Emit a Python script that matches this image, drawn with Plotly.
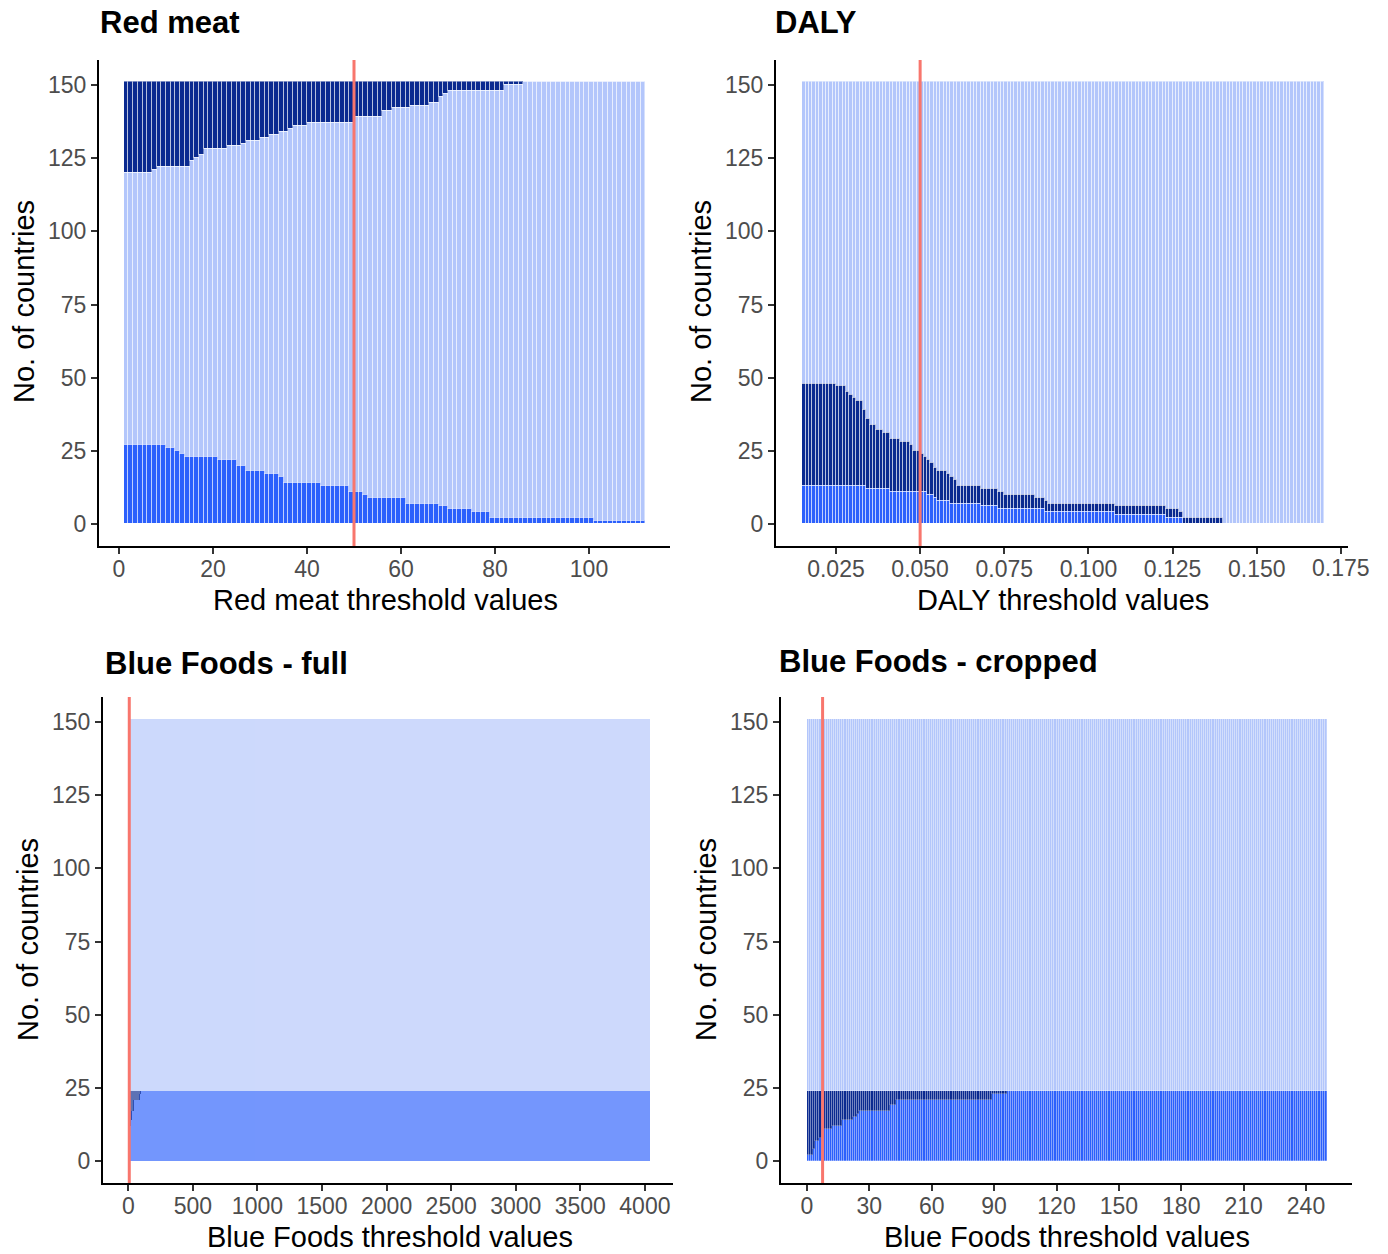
import plotly.graph_objects as go

W, H = 1388, 1254
N_COUNTRIES = 151

# ---------------- data ----------------
# Red meat: thresholds 1..111
rm_thresholds = list(range(1, 112))
rm_bright = [
    27, 27, 27, 27, 27, 27, 27, 27, 27, 26,
    26, 25, 24, 23, 23, 23, 23, 23, 23, 23,
    22, 22, 22, 22, 20, 20, 18, 18, 18, 18,
    17, 17, 17, 16, 14, 14, 14, 14, 14, 14,
    14, 14, 13, 13, 13, 13, 13, 13, 11, 11,
    11, 10, 9, 9, 9, 9, 9, 9, 9, 9,
    7, 7, 7, 7, 7, 7, 7, 6, 6, 5,
    5, 5, 5, 5, 4, 4, 4, 4, 2, 2,
    2, 2, 2, 2, 2, 2, 2, 2, 2, 2,
    2, 2, 2, 2, 2, 2, 2, 2, 2, 2,
    1, 1, 1, 1, 1, 1, 1, 1, 1, 1,
    1,
]
rm_navy = [
    31, 31, 31, 31, 31, 31, 30, 29, 29, 29,
    29, 29, 29, 29, 27, 26, 25, 23, 23, 23,
    23, 23, 22, 22, 22, 21, 20, 20, 20, 19,
    19, 18, 18, 17, 17, 16, 15, 15, 15, 14,
    14, 14, 14, 14, 14, 14, 14, 14, 14, 12,
    12, 12, 12, 12, 12, 10, 10, 9, 9, 9,
    9, 8, 8, 8, 8, 7, 7, 5, 4, 3,
    3, 3, 3, 3, 3, 3, 3, 3, 3, 3,
    3, 1, 1, 1, 1, 0, 0, 0, 0, 0,
    0, 0, 0, 0, 0, 0, 0, 0, 0, 0,
    0, 0, 0, 0, 0, 0, 0, 0, 0, 0,
    0,
]

# DALY: thresholds 0.015..0.169 (step 0.001)
daly_thresholds = [round(0.015 + 0.001 * i, 3) for i in range(155)]
daly_bright = [
    13, 13, 13, 13, 13, 13, 13, 13, 13, 13,
    13, 13, 13, 13, 13, 13, 13, 13, 13, 12,
    12, 12, 12, 12, 12, 12, 11, 11, 11, 11,
    11, 11, 11, 11, 11, 11, 11, 10, 10, 9,
    8, 8, 8, 8, 7, 7, 7, 7, 7, 7,
    7, 7, 7, 6, 6, 6, 6, 6, 5, 5,
    5, 5, 5, 5, 5, 5, 5, 5, 5, 5,
    5, 5, 4, 4, 4, 4, 4, 4, 4, 4,
    4, 4, 4, 4, 4, 4, 4, 4, 4, 4,
    4, 4, 4, 3, 3, 3, 3, 3, 3, 3,
    3, 3, 3, 3, 3, 3, 3, 3, 2, 2,
    2, 2, 2, 0, 0, 0, 0, 0, 0, 0,
    0, 0, 0, 0, 0, 0, 0, 0, 0, 0,
    0, 0, 0, 0, 0, 0, 0, 0, 0, 0,
    0, 0, 0, 0, 0, 0, 0, 0, 0, 0,
    0, 0, 0, 0, 0,
]
daly_navy = [
    35, 35, 35, 35, 35, 35, 35, 35, 35, 35,
    34, 34, 34, 32, 31, 30, 29, 29, 26, 24,
    22, 22, 20, 20, 19, 19, 18, 18, 18, 17,
    17, 17, 16, 14, 14, 13, 12, 12, 11, 10,
    10, 10, 10, 9, 9, 8, 6, 6, 6, 6,
    6, 6, 6, 6, 6, 6, 6, 6, 6, 6,
    5, 5, 5, 5, 5, 5, 5, 5, 5, 4,
    4, 4, 4, 3, 3, 3, 3, 3, 3, 3,
    3, 3, 3, 3, 3, 3, 3, 3, 3, 3,
    3, 3, 3, 3, 3, 3, 3, 3, 3, 3,
    3, 3, 3, 3, 3, 3, 3, 3, 3, 3,
    3, 3, 2, 2, 2, 2, 2, 2, 2, 2,
    2, 2, 2, 2, 2, 0, 0, 0, 0, 0,
    0, 0, 0, 0, 0, 0, 0, 0, 0, 0,
    0, 0, 0, 0, 0, 0, 0, 0, 0, 0,
    0, 0, 0, 0, 0,
]

# Blue Foods: thresholds 0..249 (cropped view); full view extends flat to 4040
bf_thresholds = list(range(0, 250))
bf_bright = [
    2, 2, 2, 4, 7, 7, 8, 8, 11, 11,
    11, 11, 12, 12, 12, 12, 12, 14, 14, 14,
    14, 14, 15, 15, 16, 17, 17, 17, 17, 17,
    17, 17, 17, 17, 17, 17, 17, 17, 17, 17,
    19, 19, 19, 21, 21, 21, 21, 21, 21, 21,
    21, 21, 21, 21, 21, 21, 21, 21, 21, 21,
    21, 21, 21, 21, 21, 21, 21, 21, 21, 21,
    21, 21, 21, 21, 21, 21, 21, 21, 21, 21,
    21, 21, 21, 21, 21, 21, 21, 21, 21, 23,
    23, 23, 23, 23, 23, 23, 24, 24, 24, 24,
    24, 24, 24, 24, 24, 24, 24, 24, 24, 24,
    24, 24, 24, 24, 24, 24, 24, 24, 24, 24,
    24, 24, 24, 24, 24, 24, 24, 24, 24, 24,
    24, 24, 24, 24, 24, 24, 24, 24, 24, 24,
    24, 24, 24, 24, 24, 24, 24, 24, 24, 24,
    24, 24, 24, 24, 24, 24, 24, 24, 24, 24,
    24, 24, 24, 24, 24, 24, 24, 24, 24, 24,
    24, 24, 24, 24, 24, 24, 24, 24, 24, 24,
    24, 24, 24, 24, 24, 24, 24, 24, 24, 24,
    24, 24, 24, 24, 24, 24, 24, 24, 24, 24,
    24, 24, 24, 24, 24, 24, 24, 24, 24, 24,
    24, 24, 24, 24, 24, 24, 24, 24, 24, 24,
    24, 24, 24, 24, 24, 24, 24, 24, 24, 24,
    24, 24, 24, 24, 24, 24, 24, 24, 24, 24,
    24, 24, 24, 24, 24, 24, 24, 24, 24, 24,
]
bf_group_size = 24
bf_full_max = 4040

rm_ref = 50
daly_ref = 0.05
bf_ref = 7.5

rm_xticks = [0, 20, 40, 60, 80, 100]
daly_xticks = [0.025, 0.05, 0.075, 0.1, 0.125, 0.15, 0.175]
bf_full_xticks = [0, 500, 1000, 1500, 2000, 2500, 3000, 3500, 4000]
bf_crop_xticks = [0, 30, 60, 90, 120, 150, 180, 210, 240]
yticks = [0, 25, 50, 75, 100, 125, 150]

# ---------------- derived ----------------
rm_light = [N_COUNTRIES - b - n for b, n in zip(rm_bright, rm_navy)]
daly_light = [N_COUNTRIES - b - n for b, n in zip(daly_bright, daly_navy)]
bf_navy = [bf_group_size - b for b in bf_bright]
bf_light = [N_COUNTRIES - bf_group_size for _ in bf_bright]

C_BRIGHT = "#2c60fc"
C_NAVY = "#0a2a90"
C_LIGHT = "#b3c6fb"
C_RED = "#f8766d"
FONT = "Liberation Sans, Arial, Helvetica, sans-serif"
STRIPE = "rgba(255,255,255,0.45)"
TICK_COLOR = "#4d4d4d"
TICK_SIZE = 23

fig = go.Figure()


def add_bars(xa, ya, xs, widths, series, opacity=1.0, line_w=1.0):
    for vals, col in series:
        fig.add_trace(go.Bar(
            x=xs, y=vals, width=widths, offset=0,
            marker=dict(color=col, line=dict(width=line_w, color=STRIPE)),
            opacity=opacity,
            xaxis=xa, yaxis=ya, showlegend=False, hoverinfo="skip",
        ))


add_bars("x", "y", rm_thresholds, 1,
         [(rm_bright, C_BRIGHT), (rm_light, C_LIGHT), (rm_navy, C_NAVY)])
add_bars("x2", "y2", daly_thresholds, 0.001,
         [(daly_bright, C_BRIGHT), (daly_navy, C_NAVY), (daly_light, C_LIGHT)])

# full Blue Foods: same data plus flat tail to the max threshold
tail_start = bf_thresholds[-1] + 1
full_x = bf_thresholds + [tail_start]
full_w = [1] * len(bf_thresholds) + [bf_full_max - tail_start]
add_bars("x3", "y3", full_x, full_w,
         [(bf_bright + [bf_bright[-1]], C_BRIGHT),
          (bf_navy + [bf_navy[-1]], C_NAVY),
          (bf_light + [bf_light[-1]], C_LIGHT)],
         opacity=0.66, line_w=0)
add_bars("x4", "y4", bf_thresholds, 1,
         [(bf_bright, C_BRIGHT), (bf_navy, C_NAVY), (bf_light, C_LIGHT)], line_w=0.55)


def px(x):
    return x / W


def py(y):
    return 1 - y / H


YR = [-7.55, 158.55]
top_dom = [py(546.1), py(59.97)]
bot_dom = [py(1183.1), py(696.97)]

axis_common = dict(
    showgrid=False, zeroline=False, showline=True, linecolor="black", linewidth=2,
    ticks="outside", ticklen=6, tickwidth=1.6, tickcolor="#333333",
    tickfont=dict(family=FONT, size=TICK_SIZE, color=TICK_COLOR),
)

layout_axes = {
    "xaxis": dict(domain=[px(99), px(670)], range=[(99 - 119) / 4.7, (670 - 119) / 4.7],
                  tickvals=rm_xticks, anchor="y", ticklabelstandoff=-5, **axis_common),
    "yaxis": dict(domain=top_dom, range=YR, tickvals=yticks, anchor="x", **axis_common),
    "xaxis2": dict(domain=[px(776), px(1348)],
                   range=[(776 - 751.8) / 3366.7, (1348 - 751.8) / 3366.7],
                   tickvals=daly_xticks, tickformat=".3f", anchor="y2",
                   ticklabelstandoff=-5, ticklabeloverflow="hide past domain", **axis_common),
    "yaxis2": dict(domain=top_dom, range=YR, tickvals=yticks, anchor="x2", **axis_common),
    "xaxis3": dict(domain=[px(103), px(673)],
                   range=[(103 - 128.3) / 0.12915, (673 - 128.3) / 0.12915],
                   tickvals=bf_full_xticks, anchor="y3", ticklabelstandoff=-5, **axis_common),
    "yaxis3": dict(domain=bot_dom, range=YR, tickvals=yticks, anchor="x3", **axis_common),
    "xaxis4": dict(domain=[px(781), px(1352)],
                   range=[(781 - 807) / 2.0792, (1352 - 807) / 2.0792],
                   tickvals=bf_crop_xticks, anchor="y4", ticklabelstandoff=-5, **axis_common),
    "yaxis4": dict(domain=bot_dom, range=YR, tickvals=yticks, anchor="x4", **axis_common),
}

shapes = []
for xr, ref in [("x", rm_ref), ("x2", daly_ref), ("x3", bf_ref), ("x4", bf_ref)]:
    shapes.append(dict(type="line", xref=xr, yref=xr.replace("x", "y") + " domain",
                       x0=ref, x1=ref, y0=0, y1=1,
                       line=dict(color=C_RED, width=3), layer="above"))

annotations = []
for text, x, y in [("Red meat", 98, 22), ("DALY", 773, 22),
                   ("Blue Foods - full", 103, 664), ("Blue Foods - cropped", 777, 661)]:
    annotations.append(dict(text="<b>%s</b>" % text, x=px(x), y=py(y), xref="paper", yref="paper",
                            xanchor="left", yanchor="middle", showarrow=False,
                            font=dict(family=FONT, size=31, color="black")))
for text, x, y in [("Red meat threshold values", 385, 600), ("DALY threshold values", 1063, 600),
                   ("Blue Foods threshold values", 389.5, 1237),
                   ("Blue Foods threshold values", 1066.5, 1237)]:
    annotations.append(dict(text=text, x=px(x), y=py(y), xref="paper", yref="paper",
                            xanchor="center", yanchor="middle", showarrow=False,
                            font=dict(family=FONT, size=29, color="black")))
for x, y in [(24, 302), (701, 302), (28, 940), (706, 940)]:
    annotations.append(dict(text="No. of countries", x=px(x), y=py(y), xref="paper", yref="paper",
                            xanchor="center", yanchor="middle", showarrow=False, textangle=-90,
                            font=dict(family=FONT, size=29, color="black")))
# last DALY tick label (the axis would hide it because it passes the plot domain)
annotations.append(dict(text="%.3f" % daly_xticks[-1], x=daly_xticks[-1], xref="x2",
                        y=py(568), yref="paper", xanchor="center", yanchor="middle",
                        showarrow=False, font=dict(family=FONT, size=TICK_SIZE, color=TICK_COLOR)))

fig.update_layout(
    width=W, height=H, autosize=False, margin=dict(l=0, r=0, t=0, b=0),
    paper_bgcolor="white", plot_bgcolor="white",
    barmode="stack", bargap=0,
    shapes=shapes, annotations=annotations,
    font=dict(family=FONT),
    **layout_axes,
)

fig.write_html("out.html", config={"responsive": False})
